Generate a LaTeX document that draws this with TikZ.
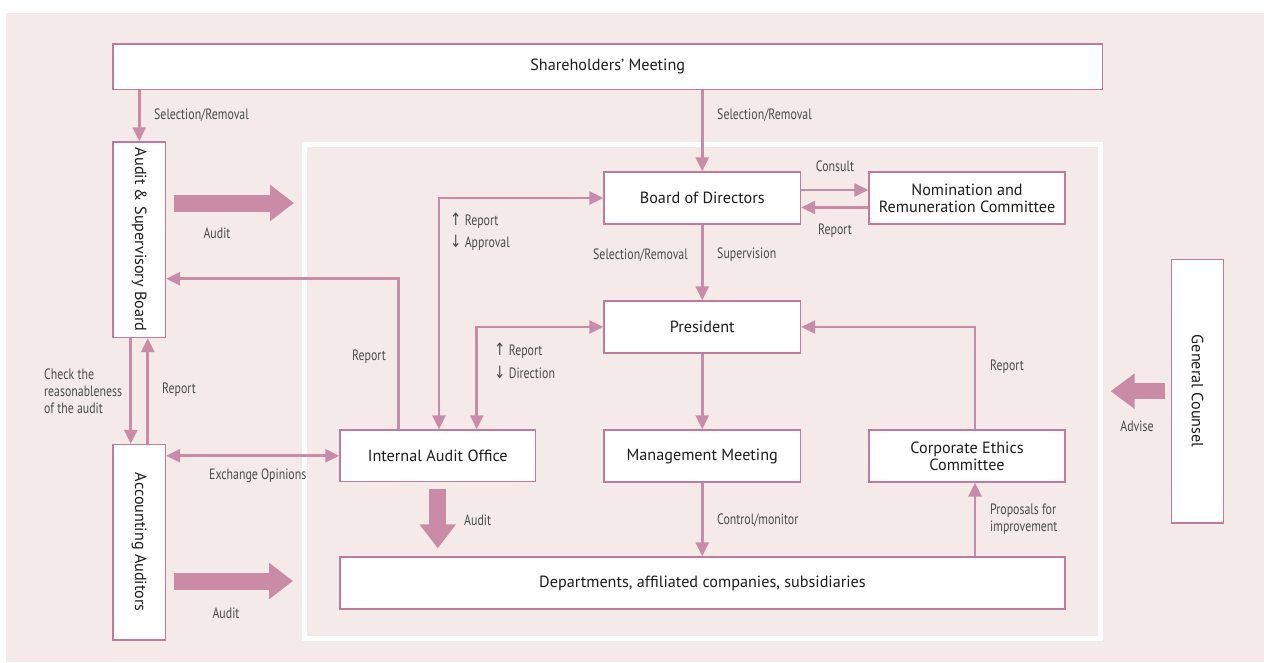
\documentclass[tikz,border=0pt]{standalone}
\usepackage{fontspec}
\setmainfont{PT Sans}
\newfontfamily\lblfont[FakeStretch=0.79]{PT Sans}
\newfontfamily\symfont[FakeStretch=0.8]{DejaVu Sans}
\usetikzlibrary{arrows.meta}

\definecolor{bgpink}{RGB}{244,234,233}
\definecolor{linepink}{RGB}{201,139,166}
\definecolor{edgepink}{RGB}{193,121,156}
\definecolor{boxtext}{RGB}{30,28,30}
\definecolor{lbltext}{RGB}{75,75,75}

\newcommand\upar{{\symfont\fontsize{17}{17}\selectfont ↑}}
\newcommand\dnar{{\symfont\fontsize{17}{17}\selectfont ↓}}

\begin{document}
\begin{tikzpicture}[x=1pt,y=-1pt,
  box/.style={draw=edgepink, line width=1.4pt, fill=white, inner sep=0pt,
    align=center, text=boxtext, font=\fontsize{16.2}{17}\selectfont},
  conn/.style={draw=linepink, line width=2.6pt, -{Triangle[length=14pt,width=13pt]}},
  connboth/.style={draw=linepink, line width=2.6pt,
    {Triangle[length=14pt,width=13pt]}-{Triangle[length=14pt,width=13pt]}},
  fat/.style={draw=linepink, line width=17pt, -{Triangle[length=24pt,width=35pt]}},
  lbl/.style={text=lbltext, font=\lblfont\fontsize{15}{17}\selectfont,
    inner sep=0pt, align=left},
]
\useasboundingbox (0,0) rectangle (1264,662);
\fill[bgpink] (6,13) rectangle (1264,662);
% white frame around the executive side
\draw[white, line width=5pt] (304,144) rectangle (1100.5,638);

% boxes
\node[box, minimum width=989.5pt, minimum height=45.5pt] (sh) at (607.75,66.75) {Shareholders’ Meeting};
\node[box, minimum width=52.5pt, minimum height=195.5pt] (asb) at (139.25,239.75) {\rotatebox{-90}{Audit \& Supervisory Board}};
\node[box, minimum width=52.5pt, minimum height=195.5pt] (aa) at (139.25,542.25) {\rotatebox{-90}{Accounting Auditors}};
\node[box, minimum width=195.5pt, minimum height=51.5pt] (iao) at (437.75,455.75) {Internal Audit Office};
\node[box, minimum width=196.5pt, minimum height=52pt] (bod) at (702.25,198) {Board of Directors};
\node[box, minimum width=196.5pt, minimum height=52pt] (pres) at (702.25,327) {President};
\node[box, minimum width=196.5pt, minimum height=52pt] (mm) at (702.25,456) {Management Meeting};
\node[box, minimum width=196pt, minimum height=52pt] (nom) at (967,198) {Nomination and\\Remuneration Committee};
\node[box, minimum width=196pt, minimum height=52pt] (ceth) at (967,456) {Corporate Ethics\\Committee};
\node[box, minimum width=725pt, minimum height=52pt] (dept) at (702.5,583) {Departments, affiliated companies, subsidiaries};
\node[box, minimum width=52.4pt, minimum height=263.7pt] (gc) at (1197.5,391.2) {\rotatebox{-90}{General Counsel}};

% connectors
\draw[conn] (sh.south -| asb.north) -- (asb.north);
\draw[conn] (sh.south -| bod.north) -- (bod.north);
\draw[conn] (bod.south) -- (pres.north);
\draw[conn] (pres.south) -- (mm.north);
\draw[conn] (mm.south) -- (mm.south |- dept.north);
\draw[conn] ([xshift=8pt]ceth.south |- dept.north) -- ([xshift=8pt]ceth.south);
\draw[conn] ([xshift=8pt]ceth.north) |- (pres.east);
\draw[conn] ([yshift=8pt]bod.east) -- ([yshift=8pt]nom.west);
\draw[conn] ([yshift=-9.5pt]nom.west) -- ([yshift=-9.5pt]bod.east);
\draw[connboth] ([xshift=1.25pt]iao.north) |- (bod.west);
\draw[connboth] ([xshift=39pt]iao.north) |- (pres.west);
\draw[conn] ([xshift=-39pt]iao.north) |- ([yshift=-39pt]asb.east);
\draw[conn] ([xshift=-8.5pt]asb.south) -- ([xshift=-8.5pt]aa.north);
\draw[conn] ([xshift=8.5pt]aa.north) -- ([xshift=8.5pt]asb.south);
\draw[connboth] (iao.west -| aa.east) -- (iao.west);

% broad audit / advice arrows
\coordinate (asbAuditEnd) at (294,203);
\coordinate (aaAuditEnd) at (293,581);
\draw[fat] ([xshift=7.5pt]asb.east |- asbAuditEnd) -- (asbAuditEnd);
\draw[fat] ([xshift=7.5pt]aa.east |- aaAuditEnd) -- (aaAuditEnd);
\draw[fat] ([yshift=-6.5pt]iao.south) -- ([yshift=8pt]dept.north -| iao.south);
\draw[fat, line width=16pt, -{Triangle[length=24pt,width=34pt]}] ([xshift=-6pt]gc.west) -- ([xshift=-60pt]gc.west);

% labels
\node[lbl, anchor=west] at (154,115) {Selection/Removal};
\node[lbl, anchor=west] at (717,115) {Selection/Removal};
\node[lbl] at (217,233) {Audit};
\node[lbl, anchor=east] at (386,357) {Report};
\node[lbl, anchor=west] at (44,391) {Check the\\reasonableness\\of the audit};
\node[lbl, anchor=west] at (162,390) {Report};
\node[lbl, anchor=west] at (209,476) {Exchange Opinions};
\node[lbl] at (226,613) {Audit};
\node[lbl, anchor=west] at (464,520) {Audit};
\node[lbl, anchor=west, font=\lblfont\fontsize{15}{22}\selectfont] at (450,232) {\upar\ Report\\\dnar\ Approval};
\node[lbl, anchor=west, font=\lblfont\fontsize{15}{23}\selectfont] at (494,360.5) {\upar\ Report\\\dnar\ Direction};
\node[lbl] at (835,166) {Consult};
\node[lbl] at (835,231) {Report};
\node[lbl, anchor=east] at (688,255) {Selection/Removal};
\node[lbl, anchor=west] at (717,255) {Supervision};
\node[lbl, anchor=west] at (990,367) {Report};
\node[lbl, anchor=west] at (717,520) {Control/monitor};
\node[lbl, anchor=west] at (990,519.5) {Proposals for\\improvement};
\node[lbl] at (1137,426) {Advise};
\end{tikzpicture}
\end{document}
